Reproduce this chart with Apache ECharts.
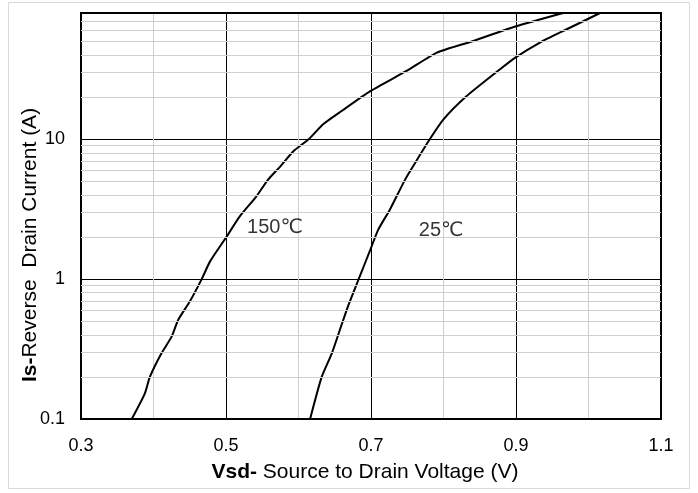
<!DOCTYPE html>
<html>
<head>
<meta charset="utf-8">
<script src="https://cdn.jsdelivr.net/npm/echarts@6/dist/echarts.min.js"></script>
<style>
  html, body { margin: 0; padding: 0; background: #fff; }
  #chart { width: 698px; height: 493px; }
</style>
</head>
<body>
<div id="chart"></div>
<script>
// 150 °C curve (Vsd in V, Is in A)
const vsd150 = [0.370, 0.388, 0.395, 0.411, 0.425, 0.434, 0.450, 0.4665, 0.478, 0.501, 0.519, 0.542, 0.558, 0.575, 0.593, 0.614, 0.634, 0.660, 0.699, 0.749, 0.791, 0.841, 0.899, 0.965];
const is150  = [0.10, 0.152, 0.20, 0.295, 0.388, 0.511, 0.691, 1.0, 1.34, 2.02, 2.81, 3.91, 5.15, 6.41, 8.22, 10, 12.8, 16.0, 22.1, 30.8, 41.7, 50.5, 64, 80];

// 25 °C curve
const vsd25 = [0.616, 0.632, 0.646, 0.657, 0.669, 0.683, 0.699, 0.710, 0.726, 0.747, 0.758, 0.781, 0.800, 0.832, 0.878, 0.899, 0.933, 0.970, 1.016];
const is25  = [0.10, 0.20, 0.295, 0.433, 0.654, 1.0, 1.62, 2.26, 3.14, 5.15, 6.41, 10, 13.9, 20.4, 31.7, 38.4, 49.2, 61.2, 80];

// curve labels
const curveNames = ['150℃', '25℃'];
const labelVsd = [0.529, 0.766];
const labelIs = [2.33, 2.22];

// axis ticks
const xTicks = ['0.3', '0.5', '0.7', '0.9', '1.1'];
const yTicks = ['0.1', '1', '10'];
const yMinor = [0.2, 0.3, 0.4, 0.5, 0.6, 0.7, 0.8, 0.9, 2, 3, 4, 5, 6, 7, 8, 9, 20, 30, 40, 50, 60, 70];

const font = "'Liberation Sans', Arial, 'DejaVu Sans', sans-serif";

const toPairs = (xs, ys) => xs.map((x, i) => [x, ys[i]]);

const chart = echarts.init(document.getElementById('chart'));

const option = {
    animation: false,
    textStyle: { fontFamily: font },
    grid: {
        left: 81,
        right: 37,
        top: 13,
        bottom: 74,
        show: true,
        borderColor: '#000',
        borderWidth: 2,
        z: 3
    },
    xAxis: {
        type: 'value',
        min: 0.3,
        max: 1.1,
        interval: 0.1,
        axisLine: { show: false },
        axisTick: { show: false },
        axisLabel: {
            color: '#000',
            fontSize: 18,
            margin: 18,
            fontFamily: font,
            formatter: (v) => {
                const s = (Math.round(v * 10) / 10).toFixed(1);
                return xTicks.includes(s) ? s : '';
            }
        },
        splitLine: {
            show: true,
            lineStyle: { color: ['#000', '#cfcfcf'], width: 1 }
        }
    },
    yAxis: {
        type: 'log',
        logBase: 10,
        min: 0.1,
        max: 80,
        axisLine: { show: false },
        axisTick: { show: false },
        axisLabel: {
            color: '#000',
            fontSize: 18,
            margin: 16,
            fontFamily: font,
            formatter: (v) => {
                const s = String(+v.toPrecision(3));
                return yTicks.includes(s) ? s : '';
            }
        },
        splitLine: {
            show: true,
            lineStyle: { color: '#000', width: 1 }
        }
    },
    series: [
        {
            // minor horizontal grid lines
            type: 'line',
            data: [],
            silent: true,
            z: 1,
            markLine: {
                silent: true,
                symbol: 'none',
                label: { show: false },
                lineStyle: { color: '#cfcfcf', width: 1, type: 'solid' },
                data: yMinor.map(v => ({ yAxis: v }))
            }
        },
        {
            name: '150℃',
            type: 'line',
            data: toPairs(vsd150, is150),
            showSymbol: false,
            smooth: 0.2,
            lineStyle: { color: '#000', width: 2 },
            z: 4
        },
        {
            name: '25℃',
            type: 'line',
            data: toPairs(vsd25, is25),
            showSymbol: false,
            smooth: 0.2,
            lineStyle: { color: '#000', width: 2 },
            z: 4
        },
        {
            type: 'scatter',
            symbolSize: 0,
            silent: true,
            z: 5,
            data: labelVsd.map((x, i) => ({ value: [x, labelIs[i]], name: curveNames[i] })),
            label: {
                show: true,
                position: 'right',
                distance: 0,
                formatter: (p) => p.name,
                color: '#000',
                fontSize: 20,
                fontFamily: font
            }
        }
    ],
    graphic: [
        {
            type: 'rect',
            shape: { x: 8.5, y: 2.5, width: 681, height: 486 },
            style: { fill: 'none', stroke: '#d9d9d9', lineWidth: 1 },
            silent: true,
            z: -1
        },
        {
            type: 'text',
            x: 365,
            y: 472,
            style: {
                text: '{b|Vsd-} Source to Drain Voltage (V)',
                fill: '#000',
                font: '21px ' + font,
                align: 'center',
                verticalAlign: 'middle',
                rich: { b: { fontWeight: 'bold', fontSize: 21, fontFamily: font } }
            }
        },
        {
            type: 'text',
            x: 30,
            y: 245,
            rotation: Math.PI / 2,
            style: {
                text: '{b|Is-}Reverse  Drain Current (A)',
                fill: '#000',
                font: '21px ' + font,
                align: 'center',
                verticalAlign: 'middle',
                rich: { b: { fontWeight: 'bold', fontSize: 21, fontFamily: font } }
            }
        }
    ]
};

chart.setOption(option);
</script>
</body>
</html>
